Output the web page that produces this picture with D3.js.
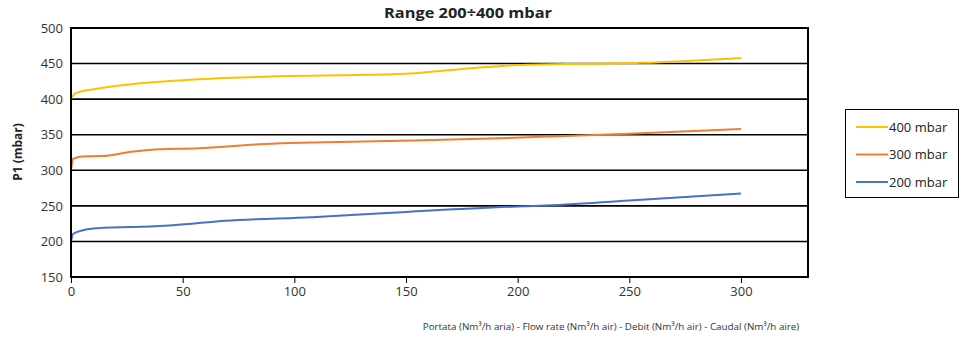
<!DOCTYPE html>
<html><head><meta charset="utf-8">
<script src="https://cdn.jsdelivr.net/npm/d3@7"></script>
<style>body{margin:0;background:#fff;}svg{display:block;font-family:"Open Sans",sans-serif;}</style>
</head><body>
<svg id="c" width="969" height="338"></svg>
<script>
const title = "Range 200÷400 mbar";
const yLabel = "P1 (mbar)";
const xLabel = "Portata (Nm³/h aria) - Flow rate (Nm³/h air) - Debit (Nm³/h air) - Caudal (Nm³/h aire)";
const seriesNames = ["400 mbar", "300 mbar", "200 mbar"];
const seriesColors = ["#FFC000", "#ED7D31", "#4472C4"];
const xTicks = [0, 50, 100, 150, 200, 250, 300];
const yTicks = [150, 200, 250, 300, 350, 400, 450, 500];

const x400 = [0, 1.8, 12, 27, 50, 72, 108, 140, 152, 170, 185, 200, 215, 255, 300];
const y400 = [400, 408, 415, 421, 426.5, 430, 433, 434.5, 436, 441, 445, 448, 449, 451, 458];
const x300 = [0, 1, 4.8, 14, 27, 35, 57, 87, 108, 147, 192, 215, 250, 300];
const y300 = [300, 316, 319.5, 320, 326, 328.5, 331, 337, 339, 341.5, 345, 347.5, 351.5, 358];
const x200 = [0, 1, 6.3, 12, 42, 54, 69, 108, 150, 200, 210, 250, 300];
const y200 = [200, 210.8, 216.5, 218.7, 222, 225, 229, 234, 241.5, 249, 250, 257.5, 267.5];

const seriesX = [x400, x300, x200];
const seriesY = [y400, y300, y200];

const svg = d3.select("#c");
const L = 71, R = 808, T = 28, B = 277;
const x = d3.scaleLinear().domain([0, 330]).range([L, R]);
const y = d3.scaleLinear().domain([150, 500]).range([B, T]);

svg.append("g").selectAll("line").data(yTicks.filter(v => v > 150 && v < 500)).join("line")
  .attr("x1", L).attr("x2", R).attr("y1", d => y(d)).attr("y2", d => y(d))
  .attr("stroke", "#000").attr("stroke-width", 1.6);

const line = d3.line().curve(d3.curveMonotoneX);
seriesX.forEach((xs, i) => {
  const pts = xs.map((xv, j) => [x(xv), y(seriesY[i][j])]);
  svg.append("path").attr("d", line(pts)).attr("fill", "none")
    .attr("stroke", seriesColors[i]).attr("stroke-width", 2);
});

svg.append("rect").attr("x", L).attr("y", T).attr("width", R - L).attr("height", B - T)
  .attr("fill", "none").attr("stroke", "#000").attr("stroke-width", 2);

const xa = svg.append("g").attr("transform", `translate(0,${B})`)
  .call(d3.axisBottom(x).tickValues(xTicks).tickSize(6).tickPadding(4).tickFormat(d3.format("d")));
xa.select(".domain").remove();
xa.selectAll("line").attr("stroke", "#000").attr("stroke-width", 1);
xa.selectAll("text").attr("font-size", 13).attr("fill", "#333").attr("font-family", "Open Sans");

const ya = svg.append("g").attr("transform", `translate(${L},0)`)
  .call(d3.axisLeft(y).tickValues(yTicks).tickSize(0).tickPadding(8));
ya.select(".domain").remove();
ya.selectAll("text").attr("font-size", 13).attr("fill", "#333").attr("font-family", "Open Sans");

svg.append("text").attr("x", 468).attr("y", 18).attr("text-anchor", "middle")
  .attr("font-weight", "bold").attr("font-size", 14.5).attr("fill", "#222")
  .attr("textLength", 168).attr("lengthAdjust", "spacingAndGlyphs").text(title);
svg.append("text").attr("transform", "translate(22,152) rotate(-90)").attr("text-anchor", "middle")
  .attr("font-weight", "bold").attr("font-size", 12).attr("fill", "#222").text(yLabel);
svg.append("text").attr("x", 611).attr("y", 330).attr("text-anchor", "middle")
  .attr("font-size", 9.8).attr("fill", "#333").text(xLabel);

const lg = svg.append("g");
lg.append("rect").attr("x", 845.5).attr("y", 109.5).attr("width", 113).attr("height", 88)
  .attr("fill", "#fff").attr("stroke", "#000").attr("stroke-width", 1);
seriesNames.forEach((n, i) => {
  const yy = 127 + i * 27.5;
  lg.append("line").attr("x1", 856).attr("x2", 888).attr("y1", yy).attr("y2", yy)
    .attr("stroke", seriesColors[i]).attr("stroke-width", 2);
  lg.append("text").attr("x", 889).attr("y", yy + 4.5).attr("font-size", 13)
    .attr("fill", "#222").text(n);
});
</script>
</body></html>
